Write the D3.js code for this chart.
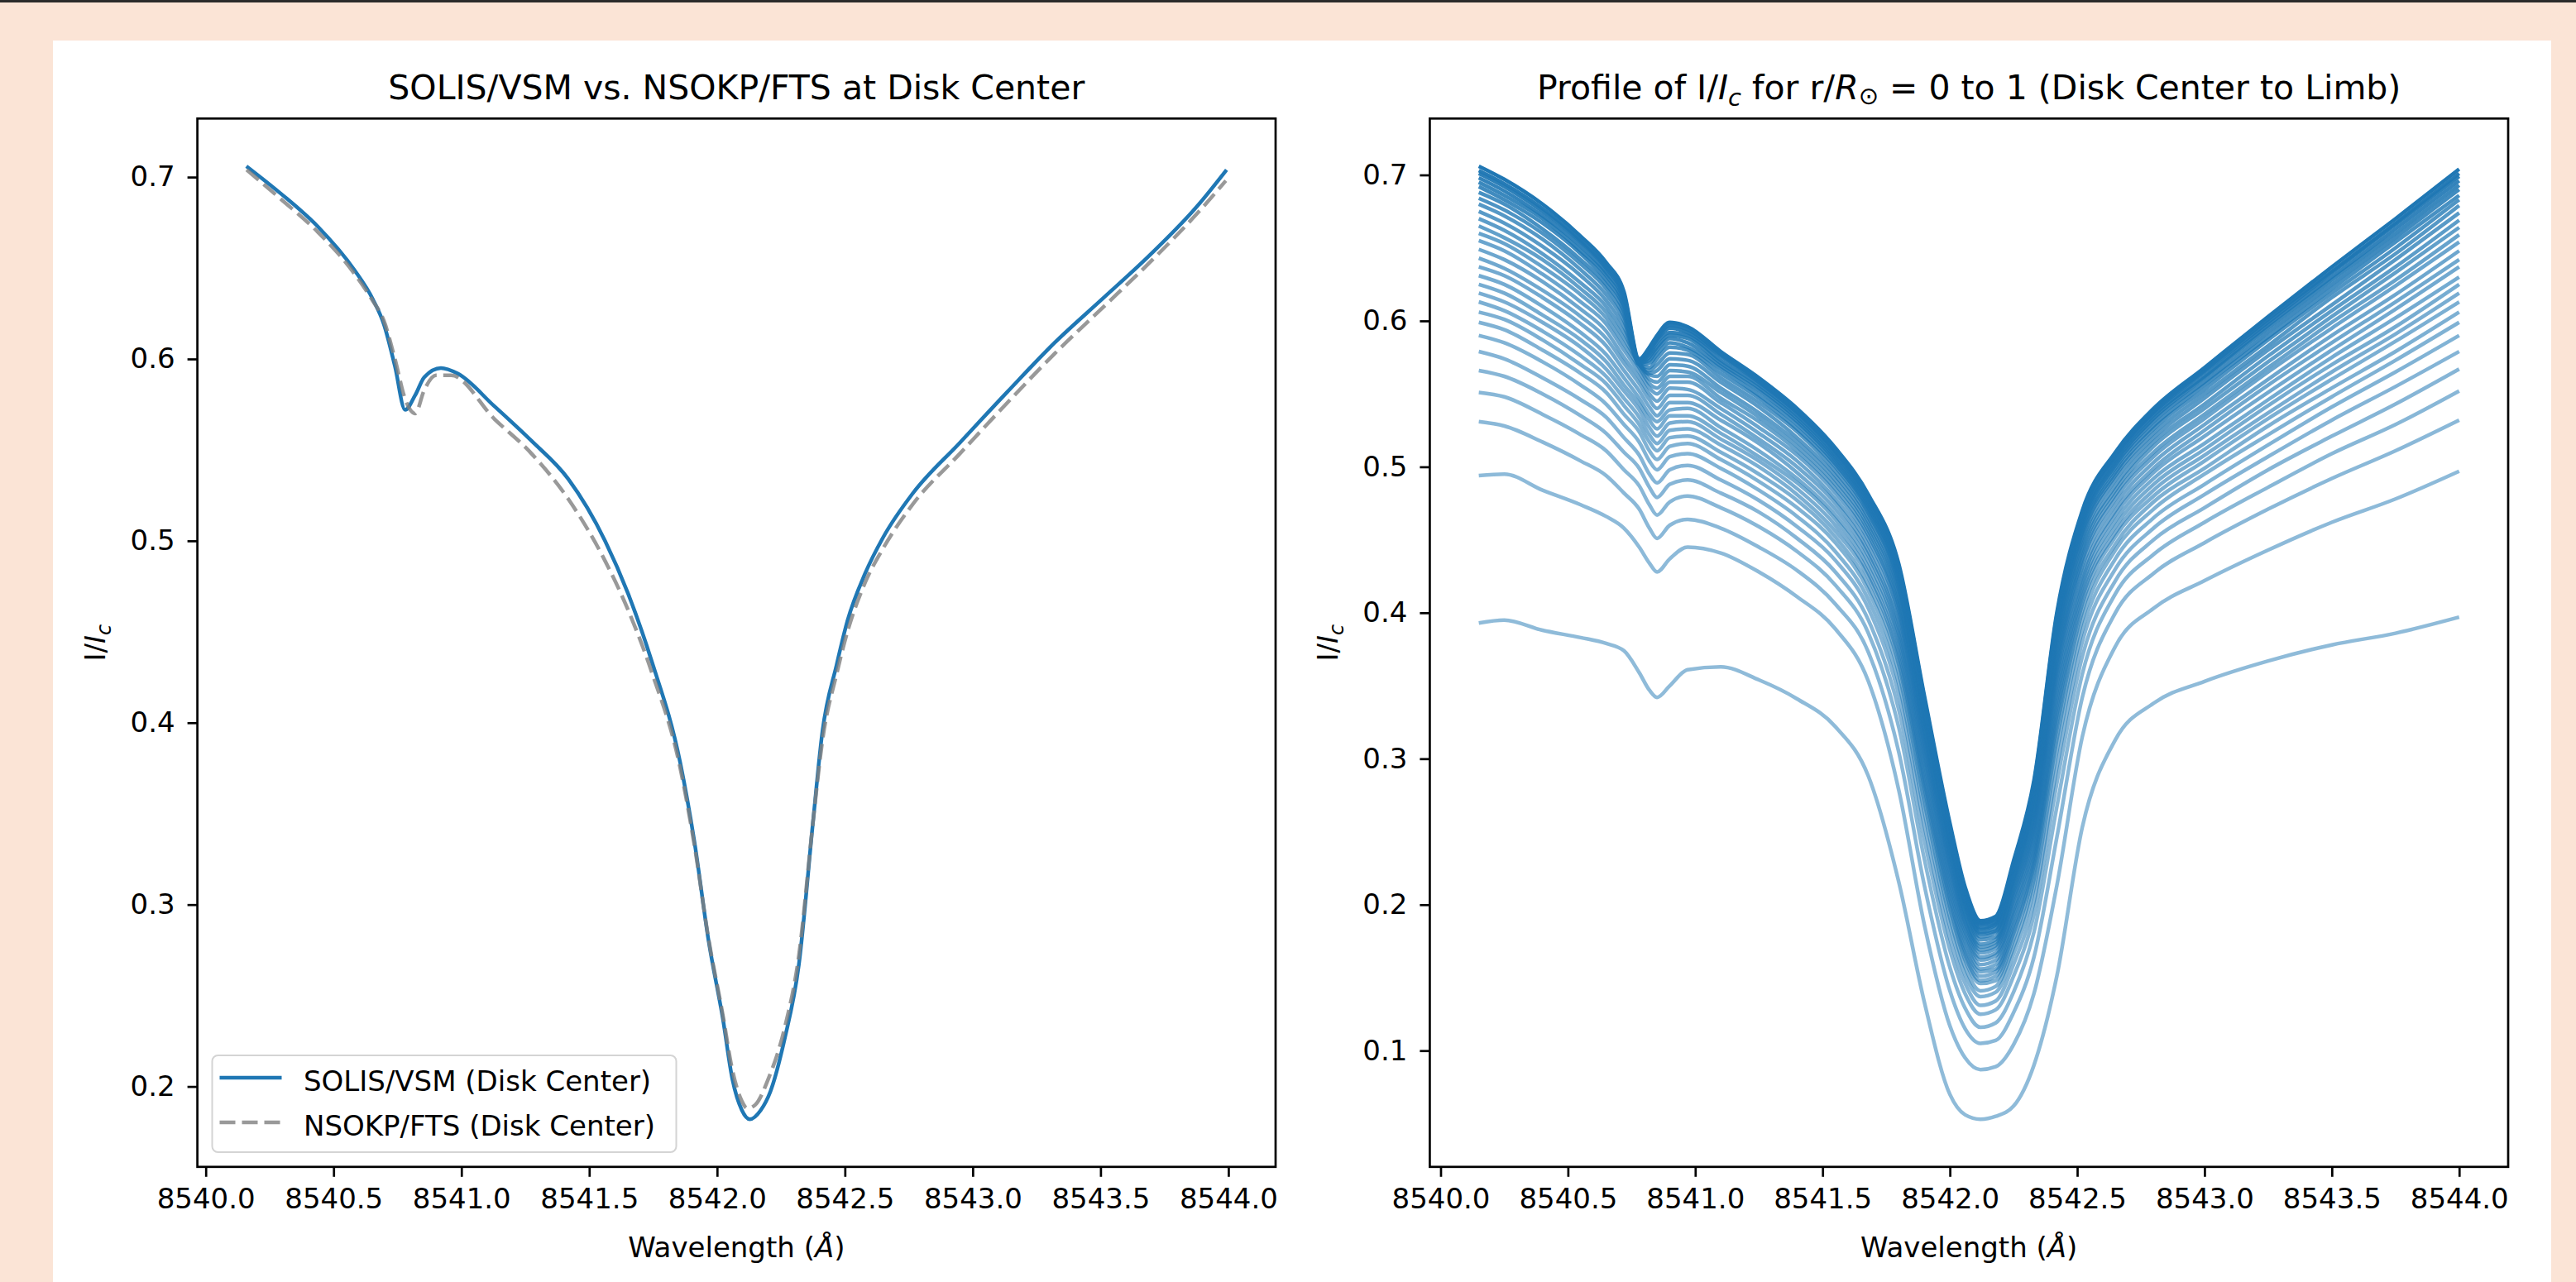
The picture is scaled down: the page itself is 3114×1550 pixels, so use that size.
<!DOCTYPE html>
<html>
<head>
<meta charset="utf-8">
<script src="https://d3js.org/d3.v7.min.js"></script>
<style>
body { margin: 0; background: #fbe4d6; }
svg { display: block; }
text { font-family: "DejaVu Sans", sans-serif; fill: #000; }
</style>
</head>
<body>
<svg id="chart" width="3114" height="1550"></svg>
<script>
// left panel: disk-centre profiles
var solisWave = [8540.159, 8540.293, 8540.437, 8540.581, 8540.653, 8540.697, 8540.740, 8540.780, 8540.819, 8540.855,
	8540.920, 8540.985, 8541.129, 8541.274, 8541.418, 8541.562, 8541.652, 8541.744, 8541.856, 8541.911,
	8541.967, 8542.023, 8542.060, 8542.097, 8542.128, 8542.171, 8542.208, 8542.264, 8542.320, 8542.375,
	8542.412, 8542.468, 8542.510, 8542.579, 8542.650, 8542.765, 8542.950, 8543.136, 8543.321, 8543.507,
	8543.692, 8543.878, 8543.993];
var solisIc = [0.706, 0.691, 0.673, 0.649, 0.633, 0.619, 0.596, 0.572, 0.580, 0.590,
	0.595, 0.592, 0.574, 0.555, 0.534, 0.500, 0.471, 0.434, 0.378, 0.335,
	0.280, 0.237, 0.204, 0.187, 0.182, 0.187, 0.197, 0.226, 0.267, 0.345,
	0.395, 0.432, 0.456, 0.482, 0.502, 0.526, 0.554, 0.582, 0.609, 0.633,
	0.657, 0.684, 0.704];

var ftsWave = [8540.160, 8540.293, 8540.437, 8540.581, 8540.653, 8540.697, 8540.740, 8540.780, 8540.800, 8540.819,
	8540.855, 8540.900, 8540.960, 8541.129, 8541.274, 8541.418, 8541.562, 8541.652, 8541.744, 8541.856,
	8541.911, 8541.967, 8542.023, 8542.060, 8542.097, 8542.118, 8542.150, 8542.200, 8542.264, 8542.320,
	8542.375, 8542.412, 8542.468, 8542.510, 8542.579, 8542.650, 8542.765, 8542.950, 8543.136, 8543.321,
	8543.507, 8543.692, 8543.878, 8543.990];
var ftsIc = [0.704, 0.688, 0.670, 0.647, 0.632, 0.621, 0.600, 0.578, 0.572, 0.570,
	0.583, 0.591, 0.591, 0.567, 0.548, 0.523, 0.489, 0.462, 0.428, 0.375,
	0.333, 0.281, 0.239, 0.209, 0.192, 0.188, 0.190, 0.204, 0.232, 0.272,
	0.345, 0.390, 0.427, 0.450, 0.477, 0.496, 0.520, 0.548, 0.576, 0.603,
	0.628, 0.653, 0.680, 0.698];

var legendLabels = ["SOLIS/VSM (Disk Center)", "NSOKP/FTS (Disk Center)"];

// right panel: centre-to-limb profiles, disk centre first, limb last
var profileWave = [8540.15, 8540.25, 8540.40, 8540.55, 8540.65, 8540.72, 8540.78, 8540.82, 8540.85, 8540.90,
	8540.97, 8541.10, 8541.25, 8541.40, 8541.55, 8541.68, 8541.80, 8541.90, 8542.00, 8542.06,
	8542.12, 8542.18, 8542.25, 8542.33, 8542.42, 8542.52, 8542.65, 8542.80, 8543.00, 8543.25,
	8543.50, 8543.75, 8544.00];

var limbProfiles = [
	[0.706, 0.697, 0.680, 0.658, 0.640, 0.620, 0.574, 0.582, 0.590, 0.599, 0.596, 0.579, 0.561, 0.540, 0.513, 0.481, 0.433, 0.343, 0.256, 0.212, 0.189, 0.192, 0.230, 0.285, 0.400, 0.470, 0.510, 0.540, 0.568, 0.603, 0.637, 0.670, 0.704],
	[0.703, 0.694, 0.677, 0.655, 0.637, 0.618, 0.573, 0.580, 0.588, 0.597, 0.594, 0.577, 0.559, 0.538, 0.511, 0.479, 0.431, 0.341, 0.254, 0.210, 0.188, 0.191, 0.228, 0.283, 0.398, 0.468, 0.508, 0.538, 0.566, 0.601, 0.634, 0.667, 0.701],
	[0.701, 0.692, 0.675, 0.654, 0.636, 0.616, 0.572, 0.579, 0.587, 0.595, 0.592, 0.576, 0.558, 0.537, 0.510, 0.478, 0.430, 0.340, 0.253, 0.210, 0.187, 0.190, 0.227, 0.282, 0.396, 0.467, 0.507, 0.537, 0.565, 0.599, 0.633, 0.666, 0.699],
	[0.698, 0.689, 0.672, 0.651, 0.633, 0.614, 0.572, 0.577, 0.585, 0.592, 0.590, 0.573, 0.556, 0.535, 0.508, 0.476, 0.427, 0.338, 0.251, 0.208, 0.186, 0.188, 0.226, 0.280, 0.394, 0.464, 0.505, 0.535, 0.562, 0.597, 0.630, 0.663, 0.696],
	[0.695, 0.686, 0.670, 0.648, 0.631, 0.611, 0.571, 0.575, 0.582, 0.590, 0.588, 0.571, 0.554, 0.533, 0.506, 0.474, 0.425, 0.336, 0.250, 0.207, 0.184, 0.187, 0.224, 0.278, 0.391, 0.462, 0.503, 0.533, 0.561, 0.595, 0.628, 0.660, 0.693],
	[0.692, 0.683, 0.667, 0.646, 0.628, 0.609, 0.571, 0.573, 0.580, 0.588, 0.585, 0.569, 0.552, 0.531, 0.504, 0.472, 0.423, 0.334, 0.248, 0.205, 0.183, 0.186, 0.222, 0.276, 0.389, 0.460, 0.501, 0.531, 0.558, 0.592, 0.625, 0.657, 0.690],
	[0.688, 0.680, 0.663, 0.642, 0.625, 0.606, 0.570, 0.571, 0.577, 0.585, 0.582, 0.567, 0.549, 0.529, 0.502, 0.470, 0.420, 0.331, 0.245, 0.203, 0.181, 0.184, 0.220, 0.274, 0.386, 0.457, 0.499, 0.528, 0.556, 0.589, 0.622, 0.654, 0.686],
	[0.684, 0.676, 0.660, 0.639, 0.622, 0.603, 0.570, 0.568, 0.574, 0.582, 0.580, 0.564, 0.547, 0.526, 0.500, 0.468, 0.418, 0.328, 0.243, 0.201, 0.180, 0.182, 0.218, 0.271, 0.383, 0.455, 0.496, 0.526, 0.553, 0.587, 0.619, 0.650, 0.683],
	[0.680, 0.672, 0.656, 0.635, 0.618, 0.600, 0.570, 0.566, 0.570, 0.578, 0.577, 0.561, 0.544, 0.524, 0.497, 0.465, 0.415, 0.326, 0.241, 0.199, 0.178, 0.181, 0.216, 0.269, 0.379, 0.452, 0.494, 0.523, 0.550, 0.583, 0.616, 0.646, 0.679],
	[0.675, 0.667, 0.651, 0.631, 0.614, 0.596, 0.570, 0.564, 0.566, 0.574, 0.573, 0.558, 0.541, 0.520, 0.494, 0.462, 0.411, 0.322, 0.238, 0.197, 0.176, 0.178, 0.213, 0.266, 0.375, 0.449, 0.491, 0.520, 0.547, 0.580, 0.611, 0.642, 0.674],
	[0.670, 0.662, 0.646, 0.626, 0.610, 0.592, 0.571, 0.563, 0.562, 0.570, 0.569, 0.554, 0.537, 0.517, 0.491, 0.459, 0.408, 0.319, 0.235, 0.194, 0.173, 0.176, 0.211, 0.263, 0.371, 0.445, 0.487, 0.517, 0.543, 0.576, 0.607, 0.637, 0.669],
	[0.665, 0.657, 0.642, 0.622, 0.606, 0.588, 0.570, 0.560, 0.558, 0.566, 0.565, 0.551, 0.534, 0.514, 0.488, 0.456, 0.404, 0.316, 0.232, 0.192, 0.171, 0.174, 0.208, 0.260, 0.367, 0.442, 0.484, 0.514, 0.540, 0.572, 0.603, 0.633, 0.664],
	[0.660, 0.653, 0.637, 0.618, 0.602, 0.584, 0.568, 0.557, 0.554, 0.562, 0.562, 0.547, 0.531, 0.511, 0.485, 0.453, 0.401, 0.312, 0.229, 0.189, 0.169, 0.172, 0.205, 0.256, 0.363, 0.438, 0.481, 0.510, 0.536, 0.568, 0.599, 0.628, 0.659],
	[0.655, 0.648, 0.632, 0.613, 0.598, 0.580, 0.565, 0.554, 0.550, 0.558, 0.558, 0.544, 0.527, 0.508, 0.482, 0.450, 0.398, 0.309, 0.226, 0.187, 0.167, 0.170, 0.203, 0.253, 0.359, 0.435, 0.478, 0.507, 0.533, 0.565, 0.595, 0.624, 0.654],
	[0.649, 0.642, 0.627, 0.608, 0.593, 0.575, 0.561, 0.550, 0.545, 0.554, 0.553, 0.540, 0.523, 0.504, 0.478, 0.446, 0.393, 0.305, 0.222, 0.184, 0.164, 0.167, 0.199, 0.250, 0.355, 0.431, 0.474, 0.503, 0.529, 0.560, 0.590, 0.618, 0.648],
	[0.643, 0.636, 0.621, 0.603, 0.588, 0.571, 0.557, 0.546, 0.540, 0.549, 0.549, 0.536, 0.519, 0.500, 0.475, 0.442, 0.389, 0.301, 0.219, 0.181, 0.162, 0.165, 0.196, 0.246, 0.350, 0.426, 0.470, 0.499, 0.525, 0.556, 0.585, 0.613, 0.642],
	[0.637, 0.631, 0.616, 0.598, 0.583, 0.566, 0.552, 0.541, 0.535, 0.544, 0.544, 0.532, 0.516, 0.496, 0.471, 0.439, 0.385, 0.297, 0.215, 0.178, 0.159, 0.162, 0.193, 0.242, 0.345, 0.422, 0.467, 0.496, 0.521, 0.551, 0.580, 0.608, 0.637],
	[0.631, 0.625, 0.610, 0.592, 0.577, 0.561, 0.547, 0.536, 0.531, 0.539, 0.540, 0.527, 0.511, 0.492, 0.467, 0.435, 0.381, 0.293, 0.211, 0.175, 0.156, 0.159, 0.190, 0.238, 0.340, 0.418, 0.463, 0.492, 0.516, 0.546, 0.575, 0.602, 0.630],
	[0.625, 0.619, 0.604, 0.587, 0.572, 0.556, 0.543, 0.532, 0.526, 0.535, 0.535, 0.523, 0.507, 0.489, 0.464, 0.431, 0.377, 0.288, 0.208, 0.171, 0.154, 0.156, 0.186, 0.234, 0.335, 0.414, 0.459, 0.488, 0.512, 0.542, 0.570, 0.596, 0.625],
	[0.619, 0.613, 0.599, 0.582, 0.567, 0.552, 0.539, 0.527, 0.521, 0.530, 0.531, 0.519, 0.504, 0.485, 0.460, 0.427, 0.372, 0.284, 0.204, 0.168, 0.151, 0.154, 0.183, 0.230, 0.330, 0.410, 0.455, 0.484, 0.508, 0.537, 0.565, 0.591, 0.619],
	[0.613, 0.607, 0.593, 0.576, 0.562, 0.547, 0.534, 0.522, 0.516, 0.525, 0.526, 0.515, 0.500, 0.481, 0.456, 0.424, 0.368, 0.280, 0.200, 0.165, 0.148, 0.151, 0.180, 0.227, 0.325, 0.406, 0.452, 0.480, 0.504, 0.533, 0.560, 0.586, 0.613],
	[0.606, 0.601, 0.587, 0.570, 0.557, 0.542, 0.529, 0.517, 0.511, 0.520, 0.521, 0.510, 0.495, 0.477, 0.452, 0.419, 0.364, 0.276, 0.197, 0.162, 0.146, 0.148, 0.176, 0.223, 0.320, 0.401, 0.447, 0.476, 0.499, 0.528, 0.554, 0.579, 0.606],
	[0.599, 0.594, 0.580, 0.564, 0.551, 0.536, 0.524, 0.511, 0.505, 0.514, 0.516, 0.505, 0.490, 0.472, 0.448, 0.415, 0.358, 0.270, 0.191, 0.157, 0.141, 0.144, 0.171, 0.217, 0.313, 0.395, 0.443, 0.471, 0.495, 0.522, 0.548, 0.573, 0.599],
	[0.590, 0.585, 0.572, 0.556, 0.543, 0.529, 0.517, 0.504, 0.498, 0.507, 0.509, 0.499, 0.484, 0.466, 0.442, 0.409, 0.351, 0.263, 0.185, 0.152, 0.137, 0.140, 0.166, 0.211, 0.305, 0.388, 0.437, 0.465, 0.488, 0.515, 0.541, 0.565, 0.590],
	[0.579, 0.574, 0.561, 0.546, 0.534, 0.520, 0.508, 0.495, 0.489, 0.498, 0.501, 0.491, 0.477, 0.459, 0.436, 0.403, 0.343, 0.254, 0.177, 0.146, 0.131, 0.134, 0.159, 0.202, 0.294, 0.380, 0.430, 0.458, 0.481, 0.507, 0.532, 0.555, 0.579],
	[0.566, 0.562, 0.550, 0.535, 0.523, 0.510, 0.499, 0.486, 0.479, 0.488, 0.491, 0.482, 0.469, 0.451, 0.428, 0.395, 0.333, 0.244, 0.169, 0.139, 0.125, 0.128, 0.151, 0.193, 0.283, 0.370, 0.422, 0.450, 0.472, 0.498, 0.521, 0.543, 0.567],
	[0.551, 0.548, 0.536, 0.522, 0.511, 0.498, 0.487, 0.474, 0.467, 0.476, 0.480, 0.472, 0.459, 0.442, 0.419, 0.386, 0.321, 0.231, 0.157, 0.129, 0.116, 0.119, 0.140, 0.181, 0.267, 0.358, 0.413, 0.440, 0.462, 0.486, 0.509, 0.529, 0.552],
	[0.531, 0.528, 0.517, 0.504, 0.494, 0.482, 0.471, 0.458, 0.451, 0.460, 0.464, 0.458, 0.445, 0.429, 0.406, 0.373, 0.304, 0.213, 0.141, 0.115, 0.105, 0.107, 0.126, 0.164, 0.246, 0.342, 0.400, 0.427, 0.448, 0.471, 0.492, 0.511, 0.532],
	[0.494, 0.495, 0.484, 0.474, 0.466, 0.458, 0.445, 0.434, 0.428, 0.437, 0.445, 0.441, 0.428, 0.411, 0.389, 0.353, 0.278, 0.186, 0.117, 0.095, 0.087, 0.089, 0.104, 0.139, 0.213, 0.315, 0.377, 0.403, 0.422, 0.443, 0.462, 0.478, 0.497],
	[0.393, 0.395, 0.388, 0.383, 0.379, 0.374, 0.359, 0.347, 0.342, 0.350, 0.361, 0.363, 0.354, 0.341, 0.322, 0.288, 0.215, 0.133, 0.070, 0.056, 0.053, 0.055, 0.062, 0.090, 0.151, 0.253, 0.313, 0.338, 0.353, 0.367, 0.378, 0.386, 0.397]
];
var profileAlpha = [1.0, 0.97, 0.94, 0.91, 0.88, 0.85, 0.82, 0.79, 0.76, 0.74,
	0.72, 0.70, 0.68, 0.66, 0.65, 0.64, 0.63, 0.62, 0.61, 0.60,
	0.59, 0.58, 0.57, 0.56, 0.55, 0.54, 0.53, 0.52, 0.51, 0.50];

var waveTicks = [8540.0, 8540.5, 8541.0, 8541.5, 8542.0, 8542.5, 8543.0, 8543.5, 8544.0];
var leftIcTicks = [0.2, 0.3, 0.4, 0.5, 0.6, 0.7];
var rightIcTicks = [0.1, 0.2, 0.3, 0.4, 0.5, 0.6, 0.7];

var width = 3114, height = 1550;
var blue = "#1f77b4";
var axTop = 143.3, axBottom = 1410.8;

var svg = d3.select("#chart");

// page backdrop + white figure card
svg.append("rect").attr("width", width).attr("height", height).attr("fill", "#fbe4d6");
svg.append("rect").attr("width", width).attr("height", 3).attr("fill", "#2b2b2b");
svg.append("rect").attr("x", 64).attr("y", 49).attr("width", 3020).attr("height", height - 49).attr("fill", "#fff");

function padded(lo, hi) {
	var p = (hi - lo) * 0.05;
	return [lo - p, hi + p];
}

function drawFrame(x, y, yTicks, left, right) {
	var xAxis = d3.axisBottom(x).tickValues(waveTicks).tickFormat(d3.format(".1f"))
		.tickSizeInner(12).tickSizeOuter(0).tickPadding(14);
	var yAxis = d3.axisLeft(y).tickValues(yTicks).tickFormat(d3.format(".1f"))
		.tickSizeInner(12).tickSizeOuter(0).tickPadding(15);

	var gx = svg.append("g").attr("transform", "translate(0," + axBottom + ")").call(xAxis);
	var gy = svg.append("g").attr("transform", "translate(" + left + ",0)").call(yAxis);
	[gx, gy].forEach(function(g){
		g.select(".domain").remove();
		g.selectAll("line").attr("stroke", "#000").attr("stroke-width", 2.7);
		g.selectAll("text").attr("font-size", 34).attr("font-family", "DejaVu Sans").attr("fill", "#000");
	});

	svg.append("rect")
		.attr("x", left).attr("y", axTop)
		.attr("width", right - left).attr("height", axBottom - axTop)
		.attr("fill", "none").attr("stroke", "#000").attr("stroke-width", 2.7);
}

function icLabel(cx) {
	var t = svg.append("text")
		.attr("transform", "translate(" + cx + "," + ((axTop + axBottom) / 2) + ") rotate(-90)")
		.attr("text-anchor", "middle").attr("font-size", 34);
	t.append("tspan").text("I/");
	t.append("tspan").attr("font-style", "italic").text("I");
	t.append("tspan").attr("font-style", "italic").attr("font-size", 24).attr("dy", 7).text("c");
}

function waveLabel(cx) {
	var t = svg.append("text").attr("x", cx).attr("y", 1520)
		.attr("text-anchor", "middle").attr("font-size", 34);
	t.append("tspan").text("Wavelength (");
	t.append("tspan").attr("font-style", "italic").text("Å");
	t.append("tspan").text(")");
}

// ---- left panel
var leftL = 238.6, leftR = 1542;
var xL = d3.scaleLinear()
	.domain(padded(d3.min(solisWave.concat(ftsWave)), d3.max(solisWave.concat(ftsWave))))
	.range([leftL, leftR]);
var yL = d3.scaleLinear()
	.domain(padded(d3.min(solisIc.concat(ftsIc)), d3.max(solisIc.concat(ftsIc))))
	.range([axBottom, axTop]);

var lineL = d3.line()
	.x(function(d){ return xL(d[0]); })
	.y(function(d){ return yL(d[1]); })
	.curve(d3.curveMonotoneX);

svg.append("path")
	.attr("d", lineL(d3.zip(solisWave, solisIc)))
	.attr("fill", "none").attr("stroke", blue).attr("stroke-width", 4.5);
svg.append("path")
	.attr("d", lineL(d3.zip(ftsWave, ftsIc)))
	.attr("fill", "none").attr("stroke", "#808080").attr("stroke-opacity", 0.8)
	.attr("stroke-width", 4.5).attr("stroke-dasharray", "19,8");

drawFrame(xL, yL, leftIcTicks, leftL, leftR);
icLabel(127);
waveLabel((leftL + leftR) / 2);

svg.append("text").attr("x", (leftL + leftR) / 2).attr("y", 120)
	.attr("text-anchor", "middle").attr("font-size", 41)
	.text("SOLIS/VSM vs. NSOKP/FTS at Disk Center");

// legend
var legend = svg.append("g");
legend.append("rect")
	.attr("x", 256.5).attr("y", 1276).attr("width", 561).attr("height", 117).attr("rx", 7)
	.attr("fill", "#fff").attr("fill-opacity", 0.8)
	.attr("stroke", "#d4d4d4").attr("stroke-width", 2);
var legendStyles = [
	{ stroke: blue, opacity: 1, dash: null },
	{ stroke: "#808080", opacity: 0.8, dash: "19,8" }
];
legendLabels.forEach(function(label, i){
	var ly = 1303 + i * 54;
	legend.append("line")
		.attr("x1", 265.5).attr("x2", 340.5).attr("y1", ly).attr("y2", ly)
		.attr("stroke", legendStyles[i].stroke).attr("stroke-opacity", legendStyles[i].opacity)
		.attr("stroke-width", 4.5).attr("stroke-dasharray", legendStyles[i].dash);
	legend.append("text").attr("x", 367).attr("y", ly + 16).attr("font-size", 34).text(label);
});

// ---- right panel
var rightL = 1728.4, rightR = 3032;
var allProfile = d3.merge(limbProfiles);
var xR = d3.scaleLinear()
	.domain(padded(d3.min(profileWave), d3.max(profileWave)))
	.range([rightL, rightR]);
var yR = d3.scaleLinear()
	.domain(padded(d3.min(allProfile), d3.max(allProfile)))
	.range([axBottom, axTop]);

var lineR = d3.line()
	.x(function(d, i){ return xR(profileWave[i]); })
	.y(function(d){ return yR(d); })
	.curve(d3.curveMonotoneX);

svg.append("g").selectAll("path")
	.data(limbProfiles)
	.enter().append("path")
		.attr("d", lineR)
		.attr("fill", "none")
		.attr("stroke", blue)
		.attr("stroke-opacity", function(d, i){ return profileAlpha[i]; })
		.attr("stroke-width", 4.5);

drawFrame(xR, yR, rightIcTicks, rightL, rightR);
icLabel(1617);
waveLabel((rightL + rightR) / 2);

var rt = svg.append("text").attr("x", (rightL + rightR) / 2).attr("y", 120)
	.attr("text-anchor", "middle").attr("font-size", 41);
rt.append("tspan").text("Profile of I/");
rt.append("tspan").attr("font-style", "italic").text("I");
rt.append("tspan").attr("font-style", "italic").attr("font-size", 29).attr("dy", 8).text("c");
rt.append("tspan").attr("dy", -8).text(" for r/");
rt.append("tspan").attr("font-style", "italic").text("R");
rt.append("tspan").attr("font-size", 29).attr("dy", 6).text("⊙");
rt.append("tspan").attr("dy", -6).text(" = 0 to 1 (Disk Center to Limb)");
</script>
</body>
</html>
